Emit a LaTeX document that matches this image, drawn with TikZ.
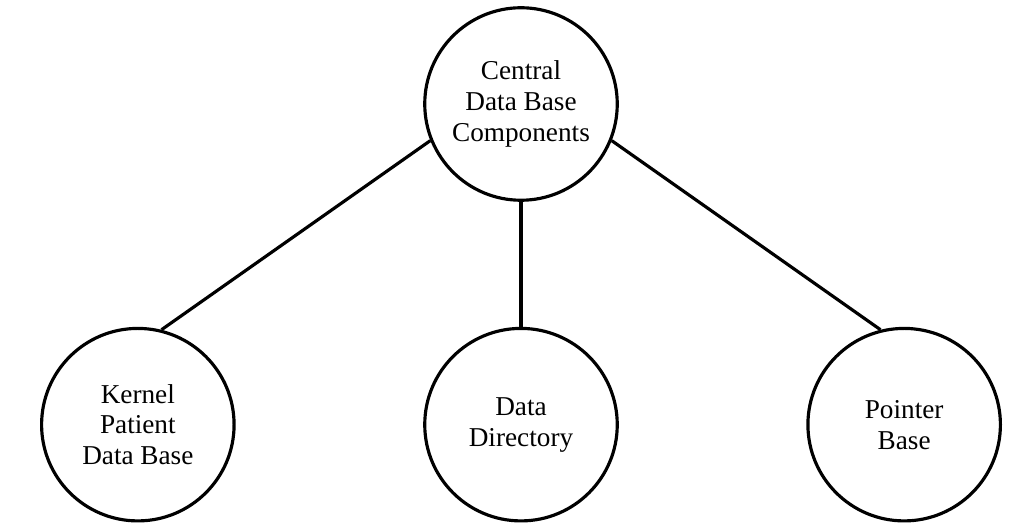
\documentclass[tikz,border=0pt]{standalone}
\usepackage{fontspec}
\setmainfont{Liberation Serif}
\usetikzlibrary{positioning}

\begin{document}
\begin{tikzpicture}[every node/.style={font=\fontsize{15.5}{17.6}\selectfont}]
\useasboundingbox (0,0) rectangle (20.38,10.62);
\tikzset{comp/.style={circle,draw=black,line width=1.8pt,minimum size=3.85cm,inner sep=0pt,align=center}}
\node[comp] at (10.42,8.54) (top){Central\\Data Base\\Components};
\node[comp,below=2.5cm of top](dd){Data\\Directory};
\node[comp,left=3.75cm of dd](kpdb){Kernel\\Patient\\Data Base};
\node[comp,right=3.75cm of dd](pb){Pointer\\Base};
\draw[line width=1.8pt] (top.202) -- (kpdb.76);
\draw[line width=1.8pt] (top.south) -- (dd.north);
\draw[line width=1.8pt] (top.338) -- (pb.104);
\end{tikzpicture}
\end{document}
